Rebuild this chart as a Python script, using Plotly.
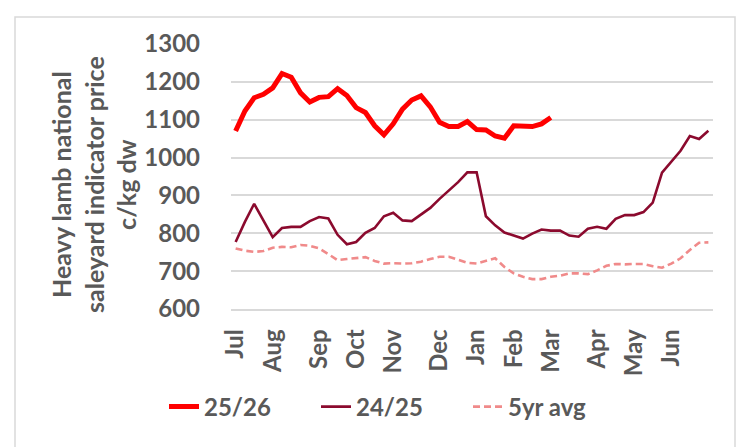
import plotly.graph_objects as go

# Weekly indicator prices (c/kg dw), season starting July
season_2526 = [1070, 1123, 1158, 1167, 1184, 1222, 1212, 1171, 1147, 1159,
               1161, 1182, 1164, 1132, 1119, 1084, 1060, 1089, 1128, 1152,
               1163, 1134, 1093, 1082, 1082, 1095, 1074, 1073, 1057, 1051,
               1084, 1082, 1082, 1089, 1106]
season_2425 = [777, 830, 878, 834, 790, 814, 817, 817, 832, 843,
               839, 796, 771, 777, 801, 814, 845, 854, 834, 832,
               849, 867, 891, 913, 935, 961, 961, 845, 821, 802,
               795, 786, 799, 810, 807, 807, 794, 791, 812, 817,
               812, 838, 848, 848, 856, 881, 960, 989, 1018, 1057,
               1049, 1071]
avg_5yr = [760, 754, 751, 753, 762, 764, 763, 769, 767, 760,
           745, 729, 732, 734, 737, 727, 720, 721, 720, 721,
           725, 732, 738, 738, 729, 722, 720, 727, 734, 711,
           694, 685, 679, 679, 685, 688, 694, 694, 692, 702,
           714, 719, 718, 719, 719, 713, 709, 720, 734, 756,
           775, 776]

month_labels = ["Jul", "Aug", "Sep", "Oct", "Nov", "Dec",
                "Jan", "Feb", "Mar", "Apr", "May", "Jun"]
month_first_week = [0, 4, 9, 13, 17, 22, 26, 30, 34, 39, 43, 47]
y_ticks = [600, 700, 800, 900, 1000, 1100, 1200, 1300]

weeks_2526 = list(range(len(season_2526)))
weeks_all = list(range(len(season_2425)))

GREY = "#595959"
FONT = "Lato"

fig = go.Figure()
fig.add_trace(go.Scatter(x=weeks_2526, y=season_2526, name="25/26", mode="lines",
                         line=dict(color="#FF0000", width=5)))
fig.add_trace(go.Scatter(x=weeks_all, y=season_2425, name="24/25", mode="lines",
                         line=dict(color="#8B0A2E", width=2.6)))
fig.add_trace(go.Scatter(x=weeks_all, y=avg_5yr, name="5yr avg", mode="lines",
                         line=dict(color="#F08A8A", width=2.6, dash="7px,4px")))

L, R, T, B = 223, 45, 36, 146
pw = 750 - L - R
ph = 447 - T - B

fig.update_layout(
    width=750, height=447,
    margin=dict(l=L, r=R, t=T, b=B, pad=0),
    paper_bgcolor="white", plot_bgcolor="white",
    showlegend=True,
    legend=dict(orientation="h", x=(156 - L) / pw, xanchor="left",
                y=(301 - 399) / ph, yanchor="middle",
                font=dict(family=FONT, size=24, color=GREY, weight="bold"),
                entrywidth=107, entrywidthmode="pixels", tracegroupgap=0),
    font=dict(family=FONT, color=GREY),
)
fig.update_xaxes(
    range=[-0.5, len(season_2425) - 0.5],
    tickmode="array", tickvals=month_first_week, ticktext=month_labels,
    tickangle=-90, ticks="", showgrid=False, zeroline=False,
    showline=True, linecolor="#d9d9d9", linewidth=1.5,
    tickfont=dict(family=FONT, size=24, color=GREY, weight="bold"),
    ticklabelstandoff=9,
)
fig.update_yaxes(
    range=[600, 1300], tickmode="array", tickvals=y_ticks,
    showgrid=True, gridcolor="#d9d9d9", gridwidth=1.5, zeroline=False,
    ticks="", showline=False,
    tickfont=dict(family=FONT, size=24, color=GREY, weight="bold"),
    ticklabelstandoff=30,
)

fig.add_annotation(
    text="Heavy lamb national<br>saleyard indicator price<br>c/kg dw",
    xref="paper", yref="paper",
    x=(85 - L) / pw, y=(301 - 177) / ph,
    xanchor="center", yanchor="middle", textangle=-90, showarrow=False,
    font=dict(family=FONT, size=25, color=GREY, weight="bold"),
)

fig.add_shape(type="rect", xref="paper", yref="paper",
              x0=(7 - L) / pw, x1=(727 - L) / pw,
              y0=(301 - 442) / ph, y1=(301 - 9) / ph,
              line=dict(color="#d9d9d9", width=1.5), fillcolor="rgba(0,0,0,0)",
              layer="below")

fig.write_html("out.html")
